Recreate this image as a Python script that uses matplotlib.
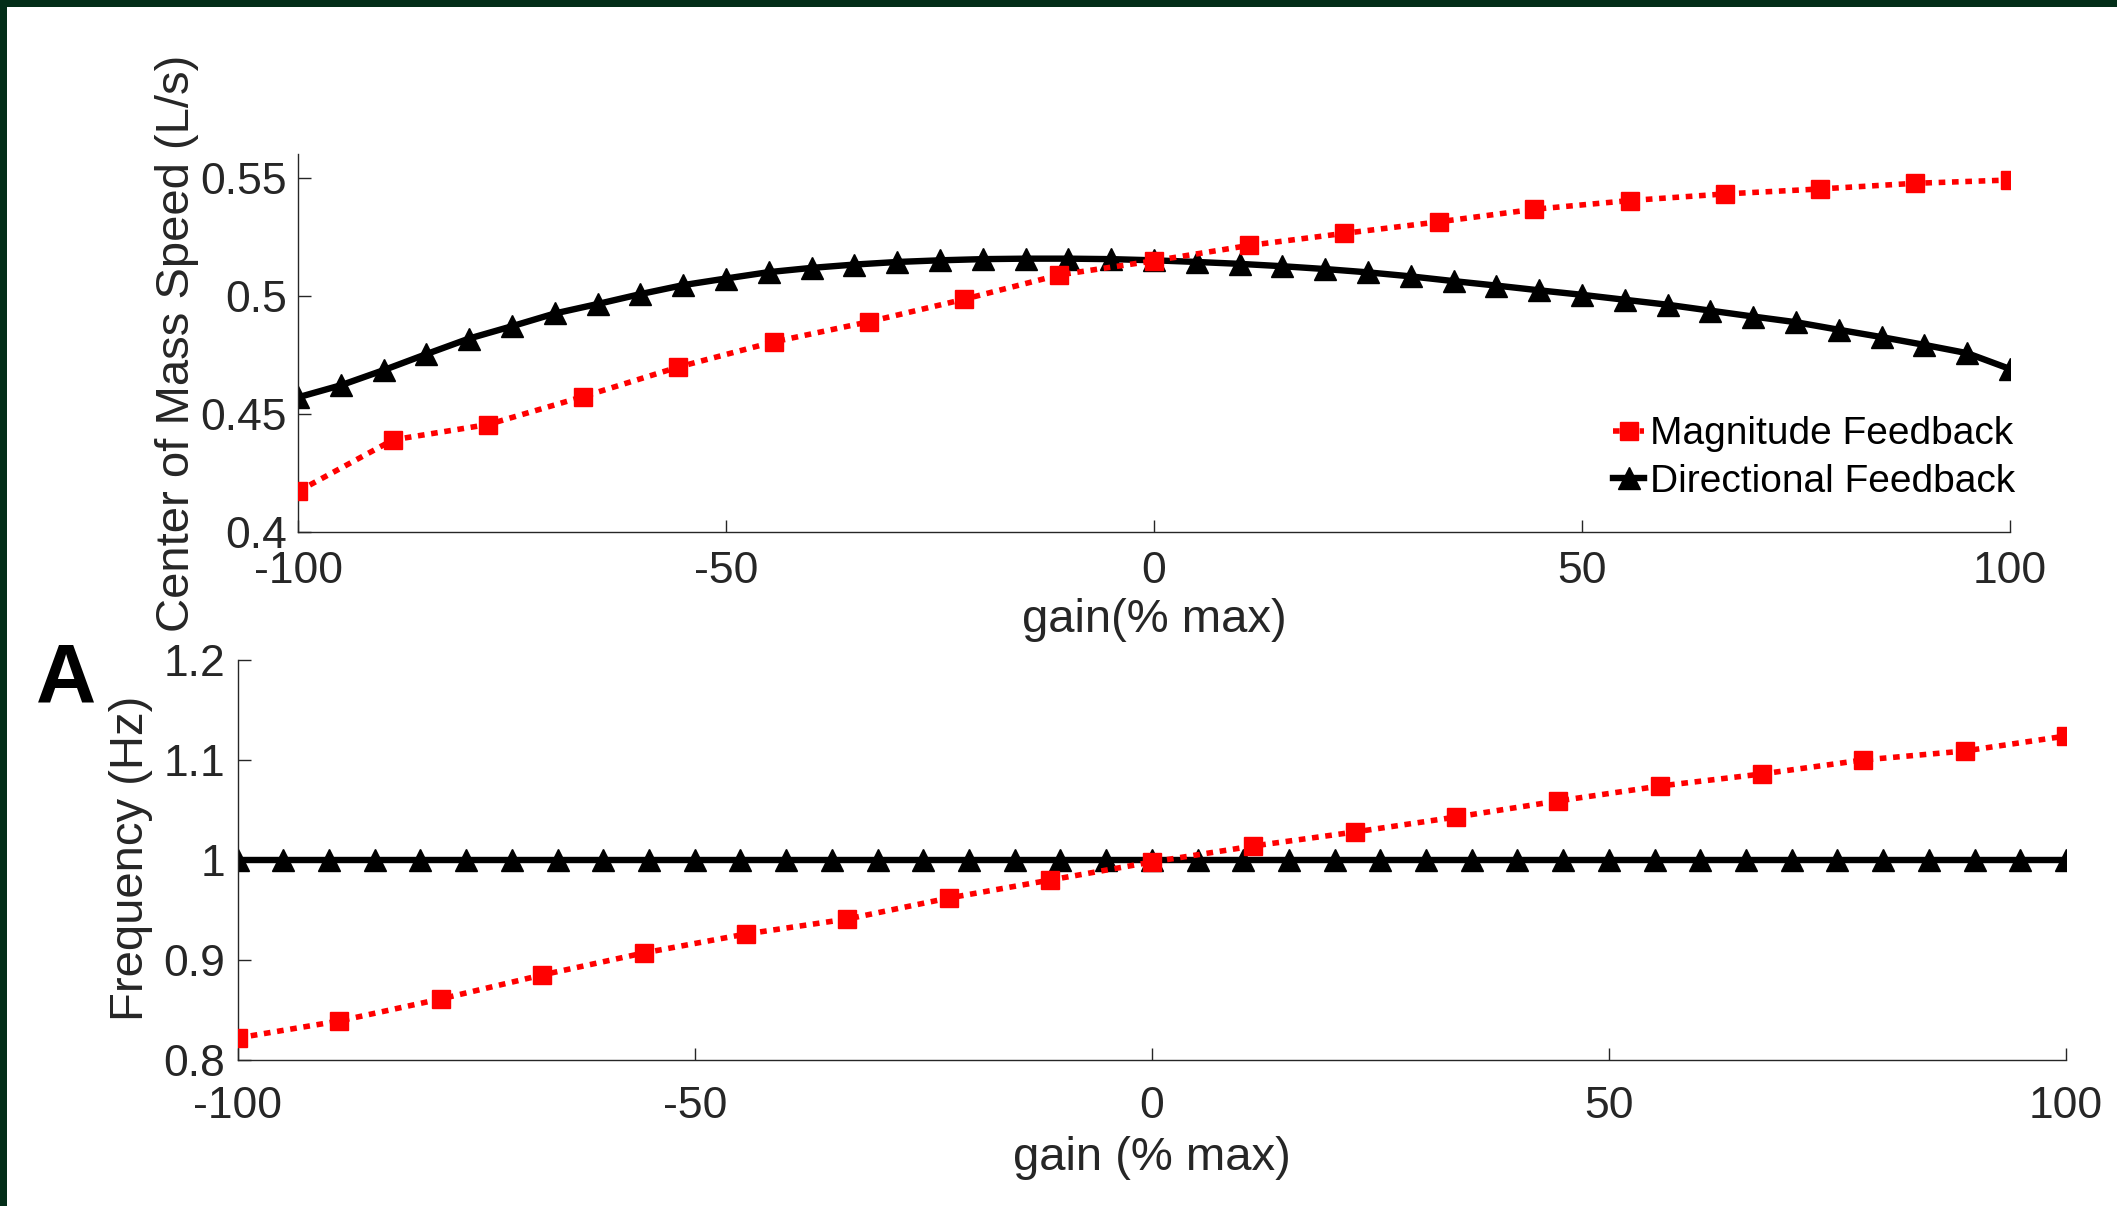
import matplotlib
matplotlib.use("Agg")
import matplotlib.pyplot as plt
from matplotlib.patches import Rectangle
import numpy as np

# ---- data ----
gain_mag = [-100, -88.9, -77.8, -66.7, -55.6, -44.4, -33.3, -22.2, -11.1, 0,
            11.1, 22.2, 33.3, 44.4, 55.6, 66.7, 77.8, 88.9, 100]
gain_dir = list(range(-100, 101, 5))

speed_mag = [0.4172, 0.4390, 0.4455, 0.4573, 0.4698, 0.4805, 0.4890, 0.4985, 0.5088, 0.5148,
             0.5213, 0.5264, 0.5313, 0.5366, 0.5403, 0.5431, 0.5452, 0.5476, 0.5490]
speed_dir = [0.4570, 0.4621, 0.4685, 0.4753, 0.4819, 0.4871, 0.4925, 0.4965, 0.5007, 0.5045,
             0.5073, 0.5100, 0.5118, 0.5132, 0.5143, 0.5150, 0.5155, 0.5157, 0.5157, 0.5155,
             0.5150, 0.5143, 0.5135, 0.5125, 0.5113, 0.5099, 0.5082, 0.5062, 0.5043, 0.5023,
             0.5004, 0.4983, 0.4962, 0.4937, 0.4912, 0.4888, 0.4856, 0.4825, 0.4792, 0.4757,
             0.4690]

freq_mag = [0.822, 0.839, 0.861, 0.885, 0.907, 0.926, 0.941, 0.962, 0.980, 0.998,
            1.014, 1.028, 1.043, 1.059, 1.074, 1.086, 1.100, 1.109, 1.124]
freq_dir = [1.0] * len(gain_dir)

xticks = [-100, -50, 0, 50, 100]
top_yticks = [0.4, 0.45, 0.5, 0.55]
top_yticklabels = ["0.4", "0.45", "0.5", "0.55"]
bot_yticks = [0.8, 0.9, 1.0, 1.1, 1.2]
bot_yticklabels = ["0.8", "0.9", "1", "1.1", "1.2"]

plt.rcParams['font.family'] = ['Liberation Sans', 'DejaVu Sans']
plt.rcParams['axes.unicode_minus'] = False

W, H = 2117, 1206
fig = plt.figure(figsize=(W / 100, H / 100), dpi=100)
fig.patch.set_facecolor('white')

axcol = '#262626'
TFS = 32   # tick labels
LFS = 34   # axis labels

def style(ax, pad_x, pad_y):
    for s in ['top', 'right']:
        ax.spines[s].set_visible(False)
    for s in ['left', 'bottom']:
        ax.spines[s].set_color(axcol)
        ax.spines[s].set_linewidth(1.0)
    ax.tick_params(axis='both', direction='in', length=9, width=1.0, colors=axcol,
                   labelsize=TFS, labelcolor='#262626')
    ax.tick_params(axis='x', pad=pad_x)
    ax.tick_params(axis='y', pad=pad_y)

dotted = (0, (1.2, 1.2))
red_kw = dict(color='red', lw=4.0, linestyle=dotted, marker='s', markersize=13,
              markeredgewidth=1, markeredgecolor='red', markerfacecolor='red', zorder=3)
blk_kw = dict(color='black', lw=4.6, marker='^', markersize=16, markeredgewidth=1,
              markeredgecolor='black', markerfacecolor='black', zorder=2)

# top axes
ax1 = fig.add_axes([298 / W, 1 - 532 / H, (2010 - 298) / W, (532 - 154) / H])
ax1.plot(gain_mag, speed_mag, label='Magnitude Feedback', **red_kw)
ax1.plot(gain_dir, speed_dir, label='Directional Feedback', **blk_kw)
ax1.set_xlim(-100, 100)
ax1.set_ylim(0.4, 0.56)
ax1.set_xticks(xticks)
ax1.set_yticks(top_yticks)
ax1.set_yticklabels(top_yticklabels)
style(ax1, 14, 8)
leg = ax1.legend(loc='lower right', bbox_to_anchor=(1.003, 0.085), frameon=False,
                 fontsize=28, handlelength=0.8, handletextpad=0.15,
                 borderaxespad=0, borderpad=0, labelspacing=0.3)
ax1.set_xlabel('gain(% max)', fontsize=LFS, color='#262626', labelpad=4)

# bottom axes
ax2 = fig.add_axes([237.6 / W, 1 - 1060 / H, (2066 - 237.6) / W, (1060 - 660) / H])
ax2.plot(gain_mag, freq_mag, **red_kw)
ax2.plot(gain_dir, freq_dir, **blk_kw)
ax2.set_xlim(-100, 100)
ax2.set_ylim(0.8, 1.2)
ax2.set_xticks(xticks)
ax2.set_yticks(bot_yticks)
ax2.set_yticklabels(bot_yticklabels)
style(ax2, 19, 9)
ax2.set_xlabel('gain (% max)', fontsize=LFS, color='#262626', labelpad=6)

# y labels
fig.text(177 / W, 1 - 343 / H, 'Center of Mass Speed (L/s)', rotation=90,
         ha='center', va='center', fontsize=LFS, color='#262626')
fig.text(131 / W, 1 - 858 / H, 'Frequency (Hz)', rotation=90,
         ha='center', va='center', fontsize=LFS, color='#262626')

# panel label
fig.text(36 / W, 1 - 702 / H, 'A', fontsize=60, fontweight='bold', color='black',
         ha='left', va='baseline')

# dark green border (top and left)
fig.patches.append(Rectangle((0, 1 - 7 / H), 1, 7 / H, transform=fig.transFigure,
                             facecolor='#032e18', edgecolor='none', zorder=10))
fig.patches.append(Rectangle((0, 0), 7 / W, 1, transform=fig.transFigure,
                             facecolor='#032e18', edgecolor='none', zorder=10))

fig.savefig('out.png', dpi=100)
